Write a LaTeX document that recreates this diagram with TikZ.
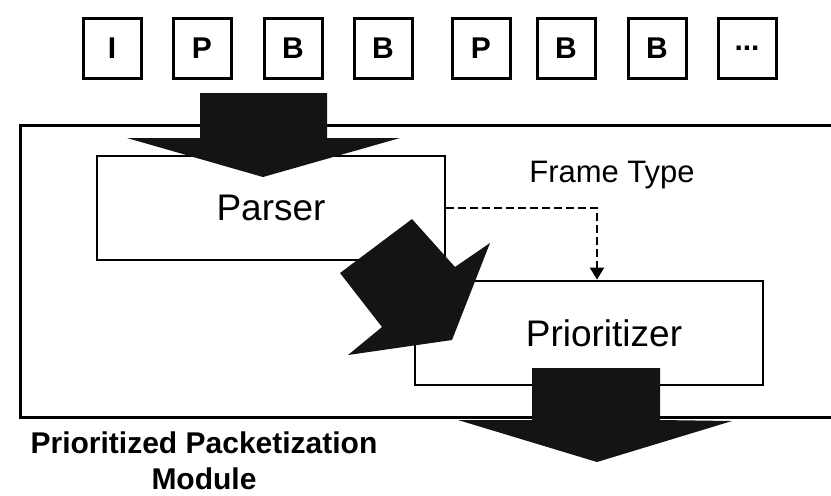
\documentclass[tikz,border=0pt]{standalone}
\usepackage{fontspec}
\setmainfont{Liberation Sans}
\usetikzlibrary{arrows.meta}
\usepackage{xcolor}

\begin{document}
\begin{tikzpicture}[x=0.5pt,y=-0.5pt,>={Triangle[width=7pt,length=6pt]},
	frame/.style={draw,line width=1.5pt,minimum width=29pt,minimum height=30pt,
		inner sep=0pt,font=\bfseries\fontsize{15}{17}\selectfont},
	block/.style={draw,fill=white,line width=1.4pt,minimum width=174pt,
		minimum height=52pt,inner sep=0pt,font=\fontsize{18.5}{22}\selectfont},
	flow/.style={fill=black!92}]
	\useasboundingbox (0,0) rectangle (831,495);
	\foreach \n/\x/\l in {
			0/112/I, 1/202/P, 2/293/B, 3/383/B,
			4/481/P, 5/566/B, 6/657/B, 7/747/{...}}
		{
		\node[frame] (frame\n) at (\x,48) {\l};
	};
	% module outline, open on the right
	\draw[line width=1.5pt] (831,125) -- (20,125) -- (20,417) -- (831,417);
	\node[font=\bfseries\fontsize{15}{18}\selectfont,align=center] (module) at (204,461)
		{Prioritized Packetization\\Module};
	\node[block] (parser) at (271,208) {Parser};
	\node[block] (prio) at (589,333) {\hspace*{15pt}Prioritizer};
	\draw[->,dashed,dash pattern=on 4pt off 2pt,line width=1pt]
		(parser.east) -| ([xshift=4pt]prio.north);
	\node[font=\fontsize{15.5}{18}\selectfont] (ftype) at (612,175) {Frame Type};
	% big flow arrows
	\fill[flow] (200,93) -- (327,93) -- (327,138) -- (400,138) -- (263,177)
		-- (127,138) -- (200,138) -- cycle;
	\fill[flow] (412,219) -- (455,267) -- (490,243) -- (452,340) -- (348,355)
		-- (382,327) -- (340,273) -- cycle;
	\fill[flow] (532,368) -- (660,368) -- (660,420) -- (732,421) -- (597,462)
		-- (458,420) -- (532,420) -- cycle;
\end{tikzpicture}
\end{document}
